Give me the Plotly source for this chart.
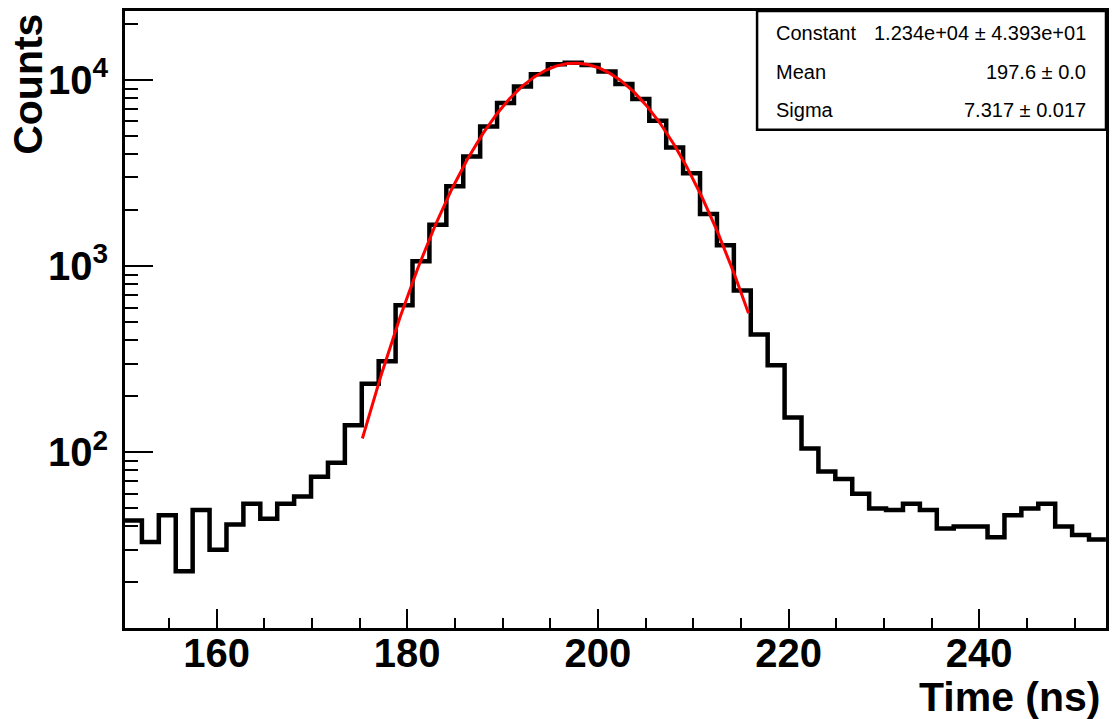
import numpy as np
import plotly.graph_objects as go

# ---------------- data ----------------
bin_low = 150.4          # ns, left edge of first bin
bin_width = 1.774        # ns
counts = [43, 33, 46, 23, 49, 30, 41, 53, 44, 53,
          58, 74, 88, 140, 234, 309, 617, 1065, 1669, 2689,
          3890, 5633, 7530, 9250, 10770, 12190, 12420, 12070, 11120, 9530,
          7910, 6050, 4351, 3158, 1912, 1297, 741, 430, 294, 154,
          105, 79, 72, 60, 50, 49, 53, 49, 39, 40,
          40, 35, 46, 50, 53, 40, 36, 34]

fit_constant = 1.234e4
fit_mean = 197.6
fit_sigma = 7.317
fit_range = [175.3, 215.8]

stat_names = ["Constant", "Mean", "Sigma"]
stat_values = ["1.234e+04 \u00b1 4.393e+01", "197.6 \u00b1 0.0", "7.317 \u00b1 0.017"]

x_range = [150.4, 253.3]
y_range_log = [1.0563, 4.3716]
y_major = [100, 1000, 10000]
y_major_text = ["10<sup>2</sup>", "10<sup>3</sup>", "10<sup>4</sup>"]
y_minor = [m * 10 ** e for e in (1, 2, 3) for m in range(2, 10)] + [20000]

# ---------------- figure ----------------
W, H = 1117, 719
ml, mr, mt, mb = 125, 8, 10, 91
pw, ph = W - ml - mr, H - mt - mb

def px_x(p):
    return (p - ml) / pw

def px_y(p):
    return 1 - (p - mt) / ph

edges = bin_low + bin_width * np.arange(len(counts) + 1)
step_y = counts + [counts[-1]]

xf = np.linspace(fit_range[0], fit_range[1], 400)
yf = fit_constant * np.exp(-0.5 * ((xf - fit_mean) / fit_sigma) ** 2)

fig = go.Figure()
fig.add_trace(go.Scatter(x=edges, y=step_y, mode="lines",
                         line=dict(shape="hv", color="black", width=4.5),
                         showlegend=False, hoverinfo="skip"))
fig.add_trace(go.Scatter(x=xf, y=yf, mode="lines",
                         line=dict(color="#ff0000", width=3),
                         showlegend=False, hoverinfo="skip"))

font_family = "Liberation Sans, Arial, Helvetica, sans-serif"
tick_font = dict(family=font_family, size=40, color="black", weight="bold")

fig.update_xaxes(range=x_range, showline=True, linecolor="black", linewidth=3,
                 mirror=True, showgrid=False, zeroline=False,
                 ticks="inside", ticklen=19, tickwidth=2, tickcolor="black",
                 tickmode="linear", tick0=0, dtick=20, tickfont=tick_font,
                 ticklabelstandoff=-12,
                 minor=dict(ticks="inside", ticklen=10, tickwidth=2,
                            tickcolor="black", tick0=0, dtick=5, showgrid=False))
fig.update_yaxes(type="log", range=y_range_log, showline=True, linecolor="black",
                 linewidth=3, mirror=True, showgrid=False, zeroline=False,
                 ticks="inside", ticklen=28, tickwidth=2, tickcolor="black",
                 tickmode="array", tickvals=y_major, ticktext=y_major_text,
                 tickfont=tick_font, ticklabelstandoff=6,
                 minor=dict(ticks="inside", ticklen=13, tickwidth=2,
                            tickcolor="black", tickmode="array",
                            tickvals=y_minor, showgrid=False))

annotations = [
    dict(text="Counts", textangle=-90, xref="paper", yref="paper",
         x=px_x(28), y=px_y(11), xanchor="center", yanchor="top",
         showarrow=False,
         font=dict(family=font_family, size=41, color="black", weight="bold")),
    dict(text="Time (ns)", xref="paper", yref="paper",
         x=px_x(1106), y=px_y(697), xanchor="right", yanchor="middle",
         showarrow=False,
         font=dict(family=font_family, size=41, color="black", weight="bold")),
]
stat_y = [32, 71, 109]
for name, val, yy in zip(stat_names, stat_values, stat_y):
    annotations.append(dict(text=name, xref="paper", yref="paper",
                            x=px_x(776), y=px_y(yy), xanchor="left",
                            yanchor="middle", showarrow=False,
                            font=dict(family=font_family, size=20, color="black")))
    annotations.append(dict(text=val, xref="paper", yref="paper",
                            x=px_x(1091), y=px_y(yy), xanchor="right",
                            yanchor="middle", showarrow=False,
                            font=dict(family=font_family, size=20, color="black")))

fig.update_layout(
    width=W, height=H,
    margin=dict(l=ml, r=mr, t=mt, b=mb, pad=0),
    paper_bgcolor="white", plot_bgcolor="white",
    showlegend=False,
    annotations=annotations,
    shapes=[dict(type="rect", xref="paper", yref="paper",
                 x0=px_x(759), x1=1, y0=px_y(129), y1=1,
                 line=dict(color="black", width=2.5), fillcolor="white",
                 layer="above")],
)

fig.write_html("out.html", config={"displayModeBar": False},
               post_script="document.body.style.margin='0';")
